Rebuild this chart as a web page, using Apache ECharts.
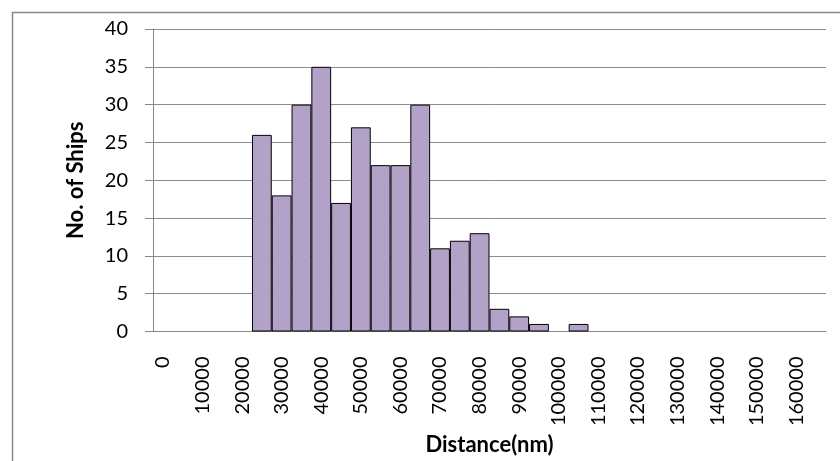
<!DOCTYPE html>
<html>
<head>
<meta charset="utf-8">
<script src="https://cdn.jsdelivr.net/npm/echarts@6/dist/echarts.min.js"></script>
<style>
html,body{margin:0;padding:0;background:#fff;}
#chart{width:840px;height:461px;}
</style>
</head>
<body>
<div id="chart"></div>
<script>
// Bin labels (distance, nm)
const categories = ['0','5000','10000','15000','20000','25000','30000','35000','40000','45000','50000','55000','60000','65000','70000','75000','80000','85000','90000','95000','100000','105000','110000','115000','120000','125000','130000','135000','140000','145000','150000','155000','160000','165000'];
// Number of ships per bin
const shipCounts = [0,0,0,0,0,26,18,30,35,17,27,22,22,30,11,12,13,3,2,1,0,1,0,0,0,0,0,0,0,0,0,0,0,0];
// Y-axis ticks
const yTicks = [0,5,10,15,20,25,30,35,40];

const FONT = 'Lato';
const chart = echarts.init(document.getElementById('chart'), null, {renderer:'canvas'});
chart.setOption({
  animation:false,
  backgroundColor:'#fff',
  grid:{left:153, right:14, top:29, bottom:122, containLabel:false},
  graphic:[{
    type:'rect', left:10, top:10, silent:true,
    shape:{x:0,y:0,width:840,height:460},
    style:{fill:'none', stroke:'#868686', lineWidth:1.5}
  }],
  xAxis:{
    type:'category', data:categories, boundaryGap:true,
    name:'Distance(nm)', nameLocation:'middle', nameGap:100,
    nameTextStyle:{fontFamily:FONT, fontWeight:'bold', fontSize:22, color:'#000'},
    axisLine:{show:true, lineStyle:{color:'#868686', width:1}},
    axisTick:{show:false},
    axisLabel:{interval:1, rotate:90, margin:25, fontFamily:FONT, fontSize:20, color:'#000'},
    splitLine:{show:false}
  },
  yAxis:{
    type:'value', min:yTicks[0], max:yTicks[yTicks.length-1], interval:yTicks[1]-yTicks[0],
    name:'No. of Ships', nameLocation:'middle', nameGap:66,
    nameTextStyle:{fontFamily:FONT, fontWeight:'bold', fontSize:22, color:'#000'},
    axisLine:{show:true, lineStyle:{color:'#868686', width:1}},
    axisTick:{show:true, inside:false, length:8, lineStyle:{color:'#868686'}},
    axisLabel:{margin:25, fontFamily:FONT, fontSize:20, color:'#000'},
    splitLine:{show:true, lineStyle:{color:'#8c8c8c', width:1}}
  },
  series:[{
    type:'bar',
    data:shipCounts.map(v => v === 0 ? '-' : v),
    barCategoryGap:'0%',
    itemStyle:{color:'#B3A2C7', borderColor:'#000', borderWidth:1}
  }]
});
</script>
</body>
</html>
